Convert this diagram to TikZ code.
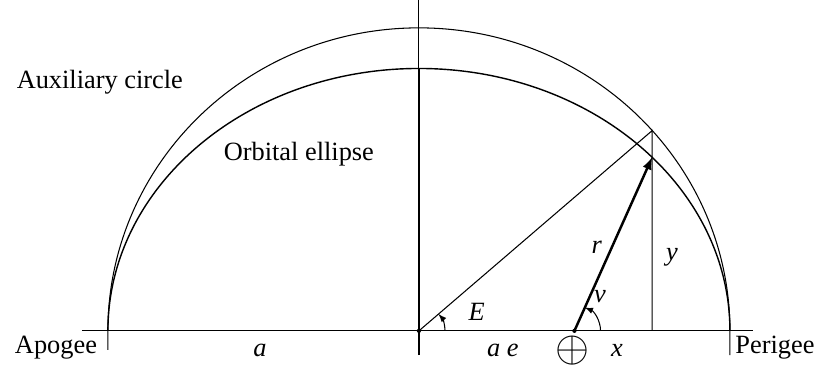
\documentclass[tikz,border=0pt]{standalone}
\usepackage{fontspec}
\setmainfont{Liberation Serif}
\begin{document}
\begin{tikzpicture}[x=6.22cm,y=6.06cm,every node/.style={font=\fontsize{15}{18}\selectfont}]
    \useasboundingbox (-1.347,-0.129) rectangle (1.280,1.092);
    \coordinate (O) at (0,0);
    \coordinate (F) at (0.5,0);
    \coordinate (Q) at (0.75,0.661);
    \coordinate (P) at (0.75,0.573);
    \coordinate (M) at (0.75,0);
    \coordinate (L) at (-1.084,0);
    \coordinate (R) at (1.074,0);
    \draw[line width=.6pt] (L) -- (R);
    \draw[line width=.6pt] (1,-0.08) -- (1,0) arc[start angle=0,end angle=180,radius=1] -- (-1,-0.063);
    \draw[line width=.8pt] (1,0) arc[start angle=0,end angle=180,x radius=1,y radius=0.866];
    \draw[line width=1.1pt] (0,-0.08) -- (0,0.866);
    \draw[line width=.6pt] (0,0.866) -- (0,1.092);
    \draw[line width=.6pt] (O) -- (Q) -- (M);
    \draw[-latex,line width=1.4pt] (F) -- (P);
    \draw[-latex,line width=.6pt] ([shift={(0.084,0)}]O) arc[start angle=0,end angle=41.4,radius=0.084];
    \draw[-latex,line width=.6pt] ([shift={(0.084,0)}]F) arc[start angle=0,end angle=66.4,radius=0.084];
    \foreach \pt in {O,F} {\fill (\pt) circle (1.2pt);}
    \node (auxlbl) at (-1.026,0.822) {Auxiliary circle};
    \node (orblbl) at (-0.386,0.584) {Orbital ellipse};
    \node (apogee) at (-1.167,-0.055) {Apogee};
    \node (perigee) at (1.145,-0.055) {Perigee};
    \node (albl) at (-0.511,-0.063) {\textit{a}};
    \node (aelbl) at (0.270,-0.063) {\textit{a e}};
    \node[font=\fontsize{25}{28}\selectfont] (earth) at (0.495,-0.066) {$\oplus$};
    \node (xlbl) at (0.637,-0.063) {\textit{x}};
    \node (ylbl) at (0.814,0.244) {\textit{y}};
    \node (rlbl) at (0.572,0.277) {\textit{r}};
    \node (nulbl) at (0.582,0.112) {\textit{ν}};
    \node (Elbl) at (0.186,0.063) {\textit{E}};
\end{tikzpicture}
\end{document}
